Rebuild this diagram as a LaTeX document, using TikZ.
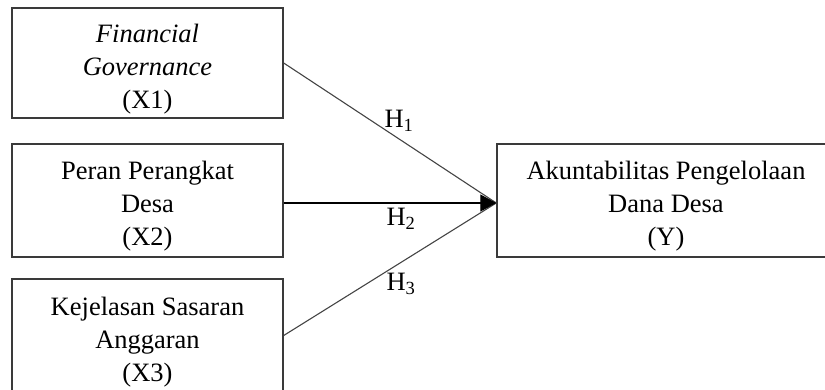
\documentclass[tikz,border=0pt]{standalone}
\usepackage{fontspec}
\setmainfont{Liberation Serif}
\usetikzlibrary{arrows.meta}
\definecolor{edgegray}{HTML}{3A3A3A}
\definecolor{linkgray}{HTML}{444444}
\tikzset{
  varbox/.style={draw=edgegray, line width=1.4pt, fill=white,
    inner sep=0pt, minimum width=271pt, minimum height=113pt},
  vartext/.style={align=center, inner sep=0pt,
    font=\fontsize{26.5}{33}\selectfont},
  link/.style={draw=linkgray, line width=1.1pt},
  hyp/.style={font=\fontsize{26.5}{33}\selectfont, inner sep=0pt}
}
\begin{document}
\begin{tikzpicture}[x=1pt,y=-1pt]
\useasboundingbox (0,0) rectangle (825,389);
\clip (0,0) rectangle (825,389);

% independent variables
\node[varbox, minimum height=110pt] (x1) at (147.5,63) {};
\node[varbox] (x2) at (147.5,200.5) {};
\node[varbox] (x3) at (147.5,335.5) {};

% dependent variable
\node[varbox, minimum width=338pt] (y) at (666,200.5) {};

% box captions
\node[vartext] (x1t) at ([yshift=-6pt]x1.center)
  {\textit{Financial}\\\textit{Governance}\\(X1)};
\node[vartext] (x2t) at ([yshift=-6pt]x2.center) {Peran Perangkat\\Desa\\(X2)};
\node[vartext] (x3t) at ([yshift=-6.5pt]x3.center) {Kejelasan Sasaran\\Anggaran\\(X3)};
\node[vartext] (yt) at ([yshift=-6pt]y.center)
  {Akuntabilitas Pengelolaan\\Dana Desa\\(Y)};

\coordinate (tip) at ([yshift=-2.5pt]y.west);

% hypothesised paths
\draw[link] (x1.east) -- (tip);
\draw[link] (x3.east) -- (tip);
\draw[link, draw=black, -{Triangle[length=16pt,width=17pt,fill=black]}]
  (x2.east |- tip) -- (tip);

% hypothesis labels
\node[hyp] (h1) at (399,121) {H\textsubscript{1}};
\node[hyp] (h2) at (401,219) {H\textsubscript{2}};
\node[hyp] (h3) at (401,284) {H\textsubscript{3}};
\end{tikzpicture}
\end{document}
